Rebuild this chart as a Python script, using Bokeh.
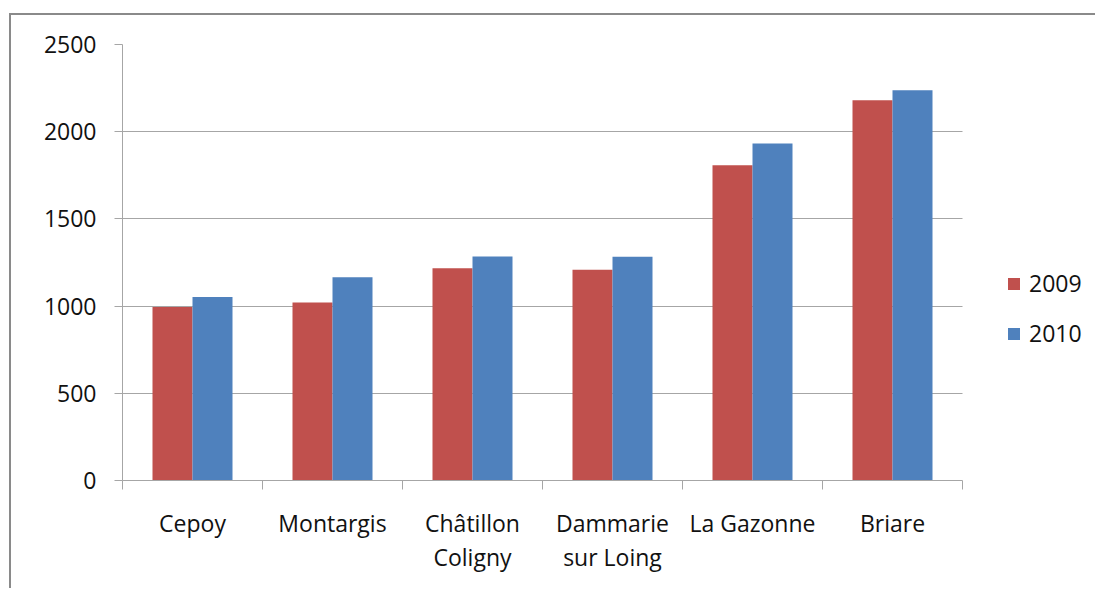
import numpy as np
from bokeh.plotting import figure
from bokeh.models import ColumnDataSource, Range1d, FixedTicker, Legend, LegendItem
from bokeh.embed import file_html
from bokeh.resources import INLINE

categories = ["Cepoy", "Montargis", "Châtillon\nColigny", "Dammarie\nsur Loing", "La Gazonne", "Briare"]
values_2009 = [995, 1020, 1217, 1208, 1807, 2180]
values_2010 = [1052, 1166, 1284, 1283, 1933, 2238]
y_ticks = [0, 500, 1000, 1500, 2000, 2500]

RED = "#C0504D"
BLUE = "#4F81BD"
GRID = "#a6a6a6"
FONT = "Open Sans"
TXT = "#111111"

n = len(categories)
centers = np.arange(n) + 0.5
bw = 1 / 3.5

src = ColumnDataSource(dict(
    x09=centers - bw / 2, x10=centers + bw / 2,
    v09=values_2009, v10=values_2010,
))

# the frame extends to the right edge so the legend can sit beside the bars;
# grid and axis are bounded to the category span
p = figure(width=1086, height=575, output_backend="svg", toolbar_location=None,
           x_range=Range1d(0, n + 135 / 140), y_range=Range1d(0, 2500))
p.styles = {"border-left": "2px solid #8a8a8a", "border-top": "2px solid #8a8a8a",
            "margin-left": "9px", "margin-top": "13px"}
p.min_border_left = 111
p.min_border_right = 0
p.min_border_top = 29
p.min_border_bottom = 110
p.outline_line_color = None
p.background_fill_color = "white"
p.border_fill_color = "white"

r09 = p.vbar(x="x09", top="v09", width=bw, source=src, fill_color=RED, line_color=None)
r10 = p.vbar(x="x10", top="v10", width=bw, source=src, fill_color=BLUE, line_color=None)

# x axis: labels at category centres, tick marks at category boundaries
xa = p.xaxis[0]
xa.bounds = (0, n)
xa.ticker = FixedTicker(ticks=list(centers), minor_ticks=list(range(n + 1)))
xa.major_label_overrides = {float(c): lab for c, lab in zip(centers, categories)}
xa.major_tick_line_color = None
xa.major_tick_out = 0
xa.major_tick_in = 0
xa.minor_tick_in = 0
xa.minor_tick_out = 9
xa.minor_tick_line_color = GRID
xa.axis_line_color = GRID
xa.major_label_text_font = FONT
xa.major_label_text_font_size = "23px"
xa.major_label_text_color = TXT
xa.major_label_text_line_height = 1.09
xa.major_label_standoff = 17

ya = p.yaxis[0]
ya.ticker = FixedTicker(ticks=y_ticks)
ya.minor_tick_line_color = None
ya.major_tick_in = 0
ya.major_tick_out = 8
ya.major_tick_line_color = GRID
ya.axis_line_color = GRID
ya.major_label_text_font = FONT
ya.major_label_text_font_size = "23px"
ya.major_label_text_color = TXT
ya.major_label_standoff = 18

p.xgrid.grid_line_color = None
p.ygrid.grid_line_color = GRID
p.ygrid.ticker = FixedTicker(ticks=y_ticks)
p.ygrid.cross_bounds = (0, n)

legend = Legend(items=[LegendItem(label="2009", renderers=[r09]),
                       LegendItem(label="2010", renderers=[r10])],
                location=(884, 131), orientation="vertical",
                glyph_width=15, glyph_height=15, label_standoff=8,
                label_text_font=FONT, label_text_font_size="23px", label_text_color=TXT,
                spacing=18, padding=0, margin=0,
                border_line_color=None, background_fill_alpha=0)
p.add_layout(legend)

open("out.html", "w").write(file_html(p, INLINE))
